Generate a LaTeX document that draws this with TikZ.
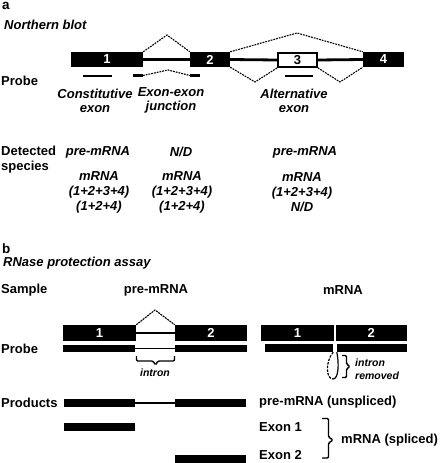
\documentclass[tikz,border=0pt]{standalone}
\usepackage{fontspec}
\setmainfont{Liberation Sans}
\begin{document}
\begin{tikzpicture}[x=1pt,y=-1pt,
  lbl/.style={inner sep=0pt,font=\fontsize{13}{15}\selectfont\bfseries},
  ilbl/.style={inner sep=0pt,font=\fontsize{13}{14}\selectfont\bfseries\itshape,align=center},
  mlbl/.style={inner sep=0pt,font=\fontsize{13}{15}\selectfont\bfseries\itshape,align=center},
  slbl/.style={inner sep=0pt,font=\fontsize{10.5}{13}\selectfont\bfseries\itshape,align=left},
  exonbox/.style={fill=black,draw=none,inner sep=0pt,text=white,font=\fontsize{13}{15}\selectfont\bfseries},
  altbox/.style={fill=white,draw=black,line width=1.8pt,inner sep=0pt,font=\fontsize{13}{15}\selectfont\bfseries},
  intronA/.style={line width=2.8pt},
  intronB/.style={line width=1.2pt},
  splice/.style={line width=1.1pt,dash pattern=on 1.8pt off 1pt},
  probeA/.style={line width=2.4pt},
  bar/.style={fill=black,draw=none,inner sep=0pt},
  brc/.style={line width=1.4pt,rounded corners=1.2pt}]
\useasboundingbox (0,0) rectangle (439,463);
% ---------- panel a ----------
\node[lbl,anchor=west,font=\fontsize{13.5}{15}\selectfont\bfseries] (la) at (2,6) {a};
\node[ilbl,anchor=west] (nb) at (4,25) {Northern blot};
\node[lbl,anchor=west] (prA) at (1,81) {Probe};
\node[exonbox,minimum width=72pt,minimum height=15pt] (e1) at (107,59.5) {1};
\node[exonbox,minimum width=40pt,minimum height=15pt] (e2) at (210,59.5) {2};
\node[altbox,minimum width=39pt,minimum height=14pt] (e3) at (297.5,60) {3};
\node[exonbox,minimum width=41pt,minimum height=15pt] (e4) at (383.5,59.5) {4};
\draw[intronA] (e1.east) -- (e2.west);
\draw[intronA] (e2.east) -- (e3.west);
\draw[intronA] (e3.east) -- (e4.west);
\coordinate (s12) at (167,35);
\coordinate (s24) at (297,33);
\coordinate (s23) at (255,82);
\coordinate (s34) at (340,82);
\draw[splice] (e1.north east) -- (s12) -- (e2.north west);
\draw[splice] (e2.north east) -- (s24) -- (e4.north west);
\draw[splice] (e2.south east) -- (s23) -- (e3.south west);
\draw[splice] (e3.south east) -- (s34) -- (e4.south west);
% probes
\draw[probeA] (83,76) -- (112,76);
\draw[probeA] (133,75.5) -- (143,75.5);
\draw[splice] (143,75.5) -- (168,70) -- (190,75.5);
\draw[probeA] (190,75.5) -- (200,75.5);
\draw[probeA] (285,76) -- (313,76);
\node[ilbl] (t1) at (95,101) {Constitutive\\exon};
\node[ilbl] (t2) at (171,100) {Exon-exon\\junction};
\node[ilbl] (t3) at (294,101) {Alternative\\exon};
\node[lbl,anchor=west,align=left] (ds) at (1,159.5) {Detected\\species};
\node[ilbl] (c1a) at (98,152) {pre-mRNA};
\node[ilbl] (c2a) at (181,152) {N/D};
\node[ilbl] (c3a) at (305,152) {pre-mRNA};
\node[mlbl] (c1b) at (99,192) {mRNA\\(1+2+3+4)\\(1+2+4)};
\node[mlbl] (c2b) at (182,192) {mRNA\\(1+2+3+4)\\(1+2+4)};
\node[mlbl] (c3b) at (302,192) {mRNA\\(1+2+3+4)\\N/D};
% ---------- panel b ----------
\node[lbl,anchor=west,font=\fontsize{13.5}{15}\selectfont\bfseries] (lb) at (2,249) {b};
\node[ilbl,anchor=west] (rpa) at (3,263) {RNase protection assay};
\node[lbl,anchor=west] (smp) at (1,290) {Sample};
\node[lbl] (pre) at (156,290) {pre-mRNA};
\node[lbl] (mr) at (343,290) {mRNA};
\node[exonbox,minimum width=73pt,minimum height=16pt] (b1) at (99.5,333) {1};
\node[exonbox,minimum width=72pt,minimum height=16pt] (b2) at (211,333) {2};
\draw[intronB] (b1.east) -- (b2.west);
\coordinate (sb) at (155,310);
\draw[line width=1.1pt,dash pattern=on 2pt off 0.8pt] (b1.north east) -- (sb) -- (b2.north west);
\node[exonbox,minimum width=73pt,minimum height=16pt] (m1) at (297.5,333) {1};
\node[exonbox,minimum width=71.5pt,minimum height=16pt] (m2) at (371.25,333) {2};
\node[lbl,anchor=west] (prB) at (1,349) {Probe};
\node[bar,minimum width=72pt,minimum height=7pt] (pb1) at (99,348.5) {};
\node[bar,minimum width=72pt,minimum height=7pt] (pb2) at (211,348.5) {};
\draw[intronB] (pb1.east) -- (pb2.west);
\draw[brc] (136.5,356) -- (136.5,361) -- (153,361) -- (155.5,365) -- (158,361) -- (174.5,361) -- (174.5,356);
\node[slbl] (intr) at (155,373) {intron};
\node[bar,minimum width=68pt,minimum height=8pt] (pm1) at (299,348) {};
\node[bar,minimum width=70pt,minimum height=8pt] (pm2) at (372,348) {};
\draw[line width=1.2pt,dash pattern=on 2.5pt off 1.2pt] (pm1.south east) .. controls (325,362) and (326,379) .. (333,379);
\draw[line width=1.2pt] (333,379) .. controls (339,379) and (339,362) .. (pm2.south west);
\draw[brc] (342,355.5) -- (346.5,355.5) -- (346.5,364) -- (350,366.5) -- (346.5,369) -- (346.5,377.5) -- (342,377.5);
\node[slbl,anchor=west] (irm) at (355,369.5) {intron\\removed};
\node[lbl,anchor=west] (prd) at (1,403) {Products};
\node[bar,minimum width=71pt,minimum height=8pt] (r1a) at (99.5,403) {};
\node[bar,minimum width=71pt,minimum height=8pt] (r1b) at (210.5,403) {};
\draw[intronB] (r1a.east) -- (r1b.west);
\node[bar,minimum width=71pt,minimum height=8pt] (r2) at (99.5,427) {};
\node[bar,minimum width=71pt,minimum height=8pt] (r3) at (210.5,459) {};
\node[lbl,anchor=west] (unsp) at (259,402) {pre-mRNA (unspliced)};
\node[lbl,anchor=west] (ex1) at (259,427) {Exon 1};
\node[lbl,anchor=west] (ex2) at (259,455) {Exon 2};
\draw[brc] (322,418.5) -- (328.5,418.5) -- (328.5,437) -- (333,440) -- (328.5,443) -- (328.5,458) -- (322,458);
\node[lbl,anchor=west] (spl) at (341,440) {mRNA (spliced)};
\end{tikzpicture}
\end{document}
